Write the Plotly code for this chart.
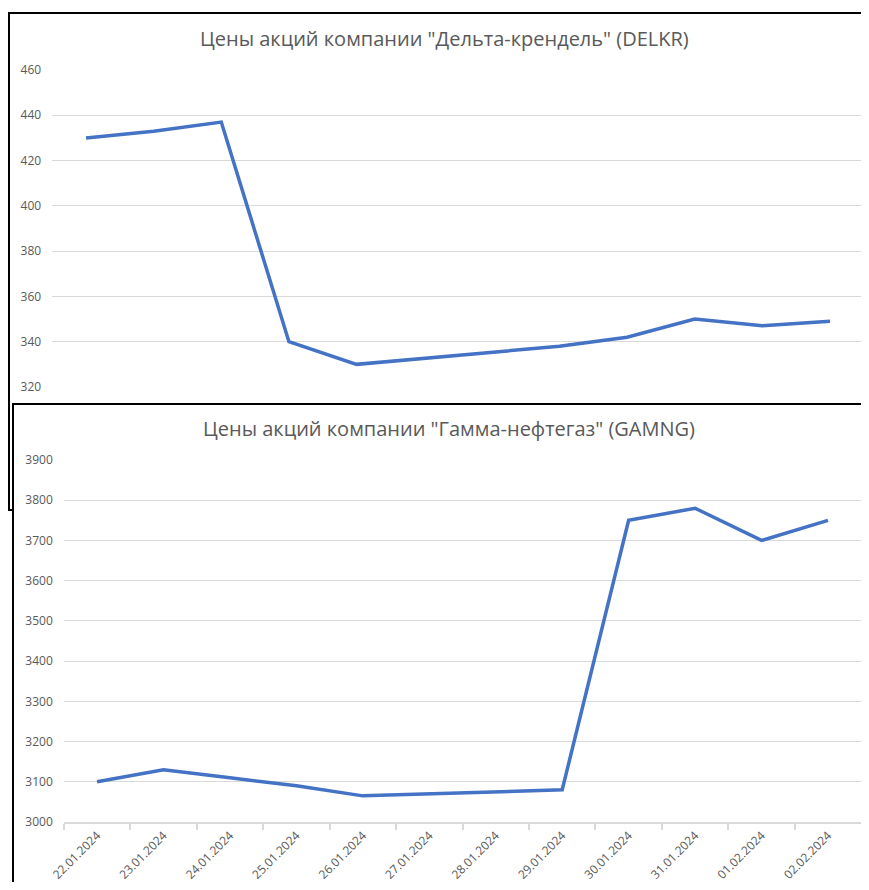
import plotly.graph_objects as go

# page body has an 8px margin; size the figure so the page does not overflow
OFF = 8
W, H = 869 - 2 * OFF, 890 - 2 * OFF

dates = ["22.01.2024", "23.01.2024", "24.01.2024", "25.01.2024", "26.01.2024",
         "27.01.2024", "28.01.2024", "29.01.2024", "30.01.2024", "31.01.2024",
         "01.02.2024", "02.02.2024"]
delkr = [430, 433, 437, 340, 330, None, None, 338, 342, 350, 347, 349]
gamng = [3100, 3130, 3110, 3090, 3065, None, None, 3080, 3750, 3780, 3700, 3750]

title1 = 'Цены акций компании "Дельта-крендель" (DELKR)'
title2 = 'Цены акций компании "Гамма-нефтегаз" (GAMNG)'


def fx(px):
    return (px - OFF) / W


def fy(py):
    return 1 - (py - OFF) / H


def xspan(left_px, right_px, n):
    """domain + category range for an axis whose category band spans left..right px"""
    step = (right_px - left_px) / n
    r_px = min(right_px, OFF + W)
    dom = [fx(left_px), min(1.0, fx(r_px))]
    rng = [-0.5, -0.5 + (r_px - left_px) / step]
    return dom, rng


LINE = "#4472C4"
GRID = "#d9d9d9"
TXT = "#595959"
FONT = "Open Sans"

dom1, rng1 = xspan(52.2, 863.8, len(dates))
dom2, rng2 = xspan(63.8, 861.2, len(dates))

fig = go.Figure()
fig.add_trace(go.Scatter(x=dates, y=delkr, mode="lines", connectgaps=True,
                         line=dict(color=LINE, width=3.5), xaxis="x", yaxis="y",
                         showlegend=False, hoverinfo="x+y"))
fig.add_trace(go.Scatter(x=dates, y=gamng, mode="lines", connectgaps=True,
                         line=dict(color=LINE, width=3.5), xaxis="x2", yaxis="y2",
                         showlegend=False, hoverinfo="x+y"))

shapes = [
    dict(type="rect", xref="paper", yref="paper", layer="below",
         x0=fx(9), x1=fx(880), y0=fy(13), y1=fy(510),
         line=dict(color="black", width=2), fillcolor="white"),
    dict(type="rect", xref="paper", yref="paper", layer="below",
         x0=fx(13), x1=fx(880), y0=fy(404), y1=fy(900),
         line=dict(color="black", width=2), fillcolor="white"),
]

annotations = [
    dict(text=title1, x=fx(444), y=fy(38), xref="paper", yref="paper",
         showarrow=False, xanchor="center", yanchor="middle",
         font=dict(family=FONT, size=20, color=TXT)),
    dict(text=title2, x=fx(449), y=fy(428), xref="paper", yref="paper",
         showarrow=False, xanchor="center", yanchor="middle",
         font=dict(family=FONT, size=20, color=TXT)),
]

fig.update_layout(
    width=W, height=H, autosize=False,
    margin=dict(l=0, r=0, t=0, b=0, pad=0),
    paper_bgcolor="white",
    plot_bgcolor="rgba(0,0,0,0)",
    font=dict(family=FONT, color=TXT),
    shapes=shapes,
    annotations=annotations,
    xaxis=dict(domain=dom1, anchor="y", type="category",
               categoryorder="array", categoryarray=dates, automargin=False,
               range=rng1, showticklabels=False, showgrid=False,
               showline=False, ticks="", zeroline=False),
    yaxis=dict(domain=[fy(387), fy(70)], anchor="x", range=[320, 460], dtick=20,
               tick0=320, showgrid=True, gridcolor=GRID, gridwidth=1,
               zeroline=False, showline=False, ticks="", automargin=False,
               ticklabelstandoff=10,
               tickfont=dict(family=FONT, size=12, color=TXT)),
    xaxis2=dict(domain=dom2, anchor="y2", type="category",
                categoryorder="array", categoryarray=dates, automargin=False,
                range=rng2, tickson="boundaries", showgrid=False,
                showline=True, linecolor=GRID, linewidth=1.5,
                ticks="outside", ticklen=6, tickcolor=GRID, tickwidth=1.5,
                tickangle=-45, zeroline=False,
                tickfont=dict(family=FONT, size=12, color=TXT)),
    yaxis2=dict(domain=[fy(822), fy(460)], anchor="x2", range=[3000, 3900],
                dtick=100, tick0=3000, showgrid=True, gridcolor=GRID,
                gridwidth=1, zeroline=False, showline=False, ticks="",
                automargin=False, ticklabelstandoff=10,
                tickfont=dict(family=FONT, size=12, color=TXT)),
)

fig.write_html("out.html")
